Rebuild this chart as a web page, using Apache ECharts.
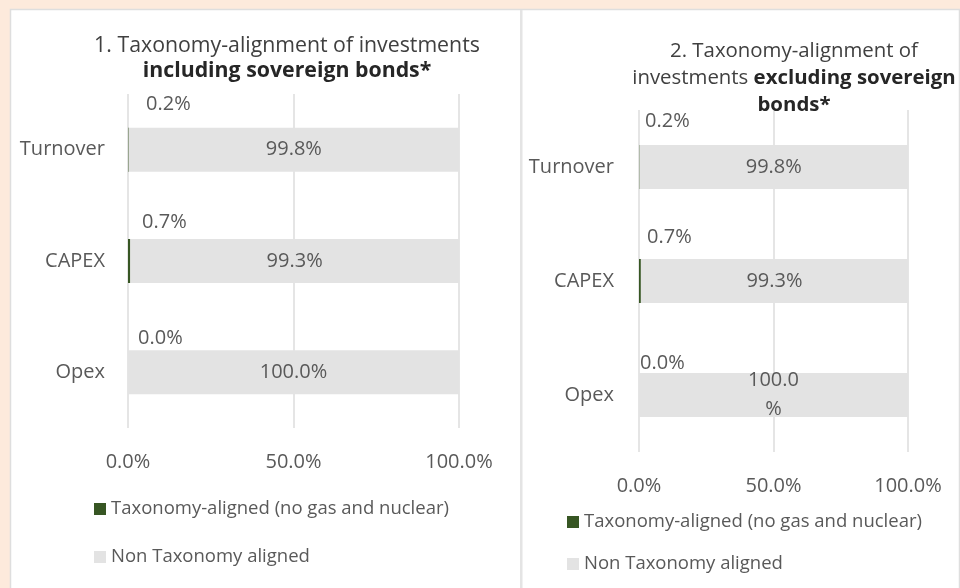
<!DOCTYPE html>
<html lang="en">
<head>
<meta charset="UTF-8">
<title>Taxonomy alignment</title>
<script src="https://cdn.jsdelivr.net/npm/echarts@6/dist/echarts.min.js"></script>
<style>
    html, body { margin: 0; padding: 0; background: #fdeadc; }
    #main { width: 960px; height: 588px; }
</style>
</head>
<body>
<div id="main"></div>
<script type="text/javascript">
var categories = ['Turnover', 'CAPEX', 'Opex'];
var seriesNames = ['Taxonomy-aligned (no gas and nuclear)', 'Non Taxonomy aligned'];

// 1. including sovereign bonds
var alignedIncl = [0.2, 0.7, 0.0];
var nonAlignedIncl = [99.8, 99.3, 100.0];

// 2. excluding sovereign bonds
var alignedExcl = [0.2, 0.7, 0.0];
var nonAlignedExcl = [99.8, 99.3, 100.0];

var xTicks = [0, 50, 100];

// where the small green labels sit, relative to their bar
var smallLabelPosIncl = [[18, -23], [14, -17], [10, -12]];
var smallLabelPosExcl = [[6, -24], [8, -22], [1, -10]];

var FONT = 'Open Sans';
var GREY_TXT = '#595959';
var GREEN = '#375623';
var BAR_GREY = '#e3e3e3';

function pct(p) { return Number(p.value).toFixed(1) + '%'; }

function xAxisOf(idx) {
    return {
        type: 'value', gridIndex: idx,
        min: xTicks[0], max: xTicks[xTicks.length - 1], interval: xTicks[1] - xTicks[0],
        axisLine: { show: false }, axisTick: { show: false },
        splitLine: { lineStyle: { color: '#dcdcdc', width: 1.5 } },
        axisLabel: {
            margin: 24, fontSize: 20, color: GREY_TXT, fontFamily: FONT,
            formatter: function (v) { return v.toFixed(1) + '%'; }
        }
    };
}
function yAxisOf(idx, margin) {
    return {
        type: 'category', gridIndex: idx, data: categories, inverse: true,
        axisLine: { show: false }, axisTick: { show: false },
        axisLabel: { margin: margin, fontSize: 20, color: GREY_TXT, fontFamily: FONT }
    };
}
function smallSeries(idx, vals, pos) {
    return {
        name: seriesNames[0], type: 'bar', stack: 's' + idx,
        xAxisIndex: idx, yAxisIndex: idx, barWidth: 44,
        itemStyle: { color: GREEN },
        label: {
            show: true, formatter: pct, fontSize: 20, color: GREY_TXT, fontFamily: FONT,
            align: 'left', verticalAlign: 'middle'
        },
        data: vals.map(function (v, i) { return { value: v, label: { position: pos[i] } }; })
    };
}
function bigSeries(idx, vals, extraLabel) {
    var label = {
        show: true, position: 'inside', formatter: pct,
        fontSize: 20, color: GREY_TXT, fontFamily: FONT
    };
    for (var k in extraLabel) label[k] = extraLabel[k];
    return {
        name: seriesNames[1], type: 'bar', stack: 's' + idx,
        xAxisIndex: idx, yAxisIndex: idx, barWidth: 44,
        itemStyle: { color: BAR_GREY },
        label: label,
        data: vals
    };
}
function legendOf(left, top, gap) {
    return {
        orient: 'vertical', left: left, top: top, itemGap: gap,
        icon: 'rect', itemWidth: 12, itemHeight: 12, selectedMode: false,
        textStyle: { fontSize: 18.5, lineHeight: 24, color: GREY_TXT, fontFamily: FONT },
        data: seriesNames
    };
}

var myChart = echarts.init(document.getElementById('main'));
var option = {
    backgroundColor: '#fdeadc',
    animation: false,
    graphic: [
        { type: 'rect', shape: { x: 10.5, y: 9.5, width: 949, height: 600 },
          style: { fill: '#ffffff', stroke: '#dedede', lineWidth: 1.5 }, z: -10 },
        { type: 'rect', shape: { x: 520, y: 10, width: 2.5, height: 580 },
          style: { fill: '#e4e4e4' }, z: -9 }
    ],
    title: [
        {
            text: '1. Taxonomy-alignment of investments\n{b|including sovereign bonds*}',
            left: 282, top: 28, textAlign: 'center',
            textStyle: {
                fontSize: 21.3, fontWeight: 'normal', color: '#404040', fontFamily: FONT, lineHeight: 25,
                rich: { b: { fontSize: 21.3, fontWeight: 'bold', color: '#262626', fontFamily: FONT, lineHeight: 25 } }
            }
        },
        {
            text: '2. Taxonomy-alignment of\ninvestments {b|excluding sovereign}\n{b|bonds*}',
            left: 789, top: 33, textAlign: 'center',
            textStyle: {
                fontSize: 20.4, fontWeight: 'normal', color: '#404040', fontFamily: FONT, lineHeight: 27,
                rich: { b: { fontSize: 20.4, fontWeight: 'bold', color: '#262626', fontFamily: FONT, lineHeight: 27 } }
            }
        }
    ],
    legend: [legendOf(89, 492, 24), legendOf(562, 505, 18)],
    grid: [
        { left: 128, top: 94, width: 331, height: 334 },
        { left: 639, top: 110, width: 269, height: 342 }
    ],
    xAxis: [xAxisOf(0), xAxisOf(1)],
    yAxis: [yAxisOf(0, 23), yAxisOf(1, 25)],
    series: [
        smallSeries(0, alignedIncl, smallLabelPosIncl),
        bigSeries(0, nonAlignedIncl, {}),
        smallSeries(1, alignedExcl, smallLabelPosExcl),
        bigSeries(1, nonAlignedExcl, { width: 62, overflow: 'breakAll', lineHeight: 29 })
    ]
};
myChart.setOption(option);
</script>
</body>
</html>
